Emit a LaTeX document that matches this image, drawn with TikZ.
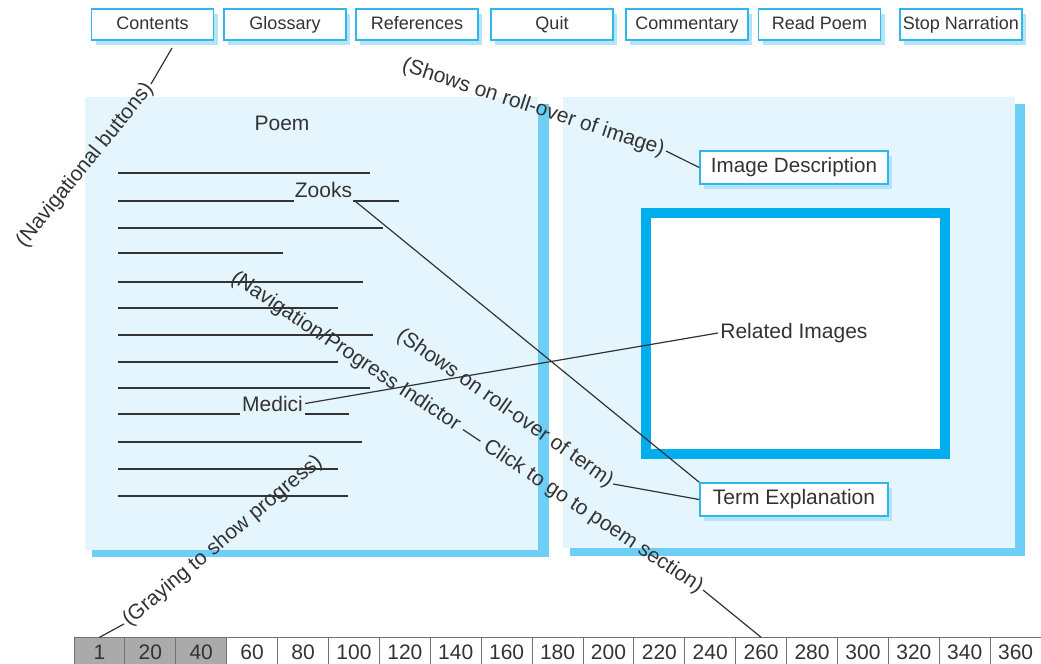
\documentclass[tikz,border=0pt]{standalone}
\usepackage{fontspec}
\setmainfont{Liberation Sans}
\usetikzlibrary{shadows}
\definecolor{Celeste}{HTML}{2DB7EA}
\definecolor{Marco}{HTML}{00AEEF}
\definecolor{Panel}{HTML}{E4F5FD}
\definecolor{Sombra}{HTML}{6ECFF6}
\definecolor{SombraBoton}{HTML}{B5E4F7}
\definecolor{Tinta}{HTML}{333333}
\definecolor{Gris}{HTML}{AAAAAA}

\begin{document}
\begin{tikzpicture}[x=0.5pt,y=-0.5pt,
  boton/.style={draw=Celeste,line width=0.8pt,fill=white,minimum width=61pt,minimum height=15.5pt,
    inner xsep=1pt,text height=6.6pt,text depth=1.9pt,text=Tinta,font=\fontsize{9}{11}\selectfont,
    drop shadow={shadow xshift=2pt,shadow yshift=-2.5pt,fill=SombraBoton,opacity=1}},
  etiqueta/.style={boton,minimum width=94pt,text height=7.6pt,text depth=2.2pt,font=\fontsize{10.3}{12}\selectfont},
  nota/.style={text=Tinta,inner sep=1pt,font=\fontsize{10.5}{12}\selectfont},
  texto/.style={text=Tinta,inner sep=1pt,font=\fontsize{10.5}{12}\selectfont},
  guia/.style={draw=Tinta,line width=0.6pt},
  verso/.style={draw=Tinta,line width=0.6pt},
  celda/.style={draw=Tinta!70,line width=0.5pt,minimum width=25.45pt,minimum height=14pt,
    text height=7.5pt,text depth=0pt,text=Tinta,font=\fontsize{10.5}{12}\selectfont}]
\useasboundingbox (0,0) rectangle (1041,664);
% panels
\fill[Sombra] (92,104) rectangle (549,557);
\fill[Panel] (85,97) rectangle (538,550);
\fill[Sombra] (570,104) rectangle (1025,556);
\fill[Panel] (563,97) rectangle (1015,548);
\draw[Marco,line width=5pt,fill=white] (646,213) rectangle (945,454);
% buttons
\foreach \nm/\lbl/\xc in {contents/Contents/152.5,glossary/Glossary/285,references/References/417,
  quit/Quit/552,commentary/Commentary/687,readpoem/Read Poem/819.5,stop/Stop Narration/961}
  \node[boton] (\nm) at (\xc,24.5) {\lbl};
% poem text
\node[texto] (titulo) at (282,123) {Poem};
\foreach \y/\xe in {173/370,228/383,253/283,282/363,308/338,335/373,362/338,388/370,442/362,469/338,496/348}
  \draw[verso] (118,\y) -- (\xe,\y);
\draw[verso] (118,201) -- (294,201) (353,201) -- (399,201);
\draw[verso] (118,414) -- (240,414) (305,414) -- (349,414);
\node[texto,anchor=base] (zooks) at (323.5,198) {Zooks};
\node[texto,anchor=base] (medici) at (272.5,411) {Medici};
% image side
\node[etiqueta] (descripcion) at (794,167.5) {Image Description};
\node[etiqueta,font=\fontsize{10.5}{12}\selectfont] (termino) at (794,499.5) {Term Explanation};
\node[texto,anchor=west] (relacion) at (718,333) {Related Images};
% progress bar
\foreach \n [count=\i from 0] in {1,20,40,60,...,360}{
  \ifnum\i<3 \def\relleno{Gris}\else \def\relleno{white}\fi
  \node[celda,fill=\relleno] (celda\i) at ({99.45+50.9*\i},652) {\n};
}
% notes
\node[nota,rotate=51,anchor=east] (notanav) at (151,84) {(Navigational buttons)};
\coordinate (pieboton) at (172,48);
\draw[guia] (notanav.east) -- (pieboton);
\node[nota,rotate=-18,anchor=east] (notaimg) at (666,151) {(Shows on roll-over of image)};
\draw[guia] (notaimg.east) -- (descripcion.west);
\node[nota,rotate=-35,anchor=east] (notatermino) at (613,484) {(Shows on roll-over of term)};
\draw[guia] (notatermino.east) -- (termino.west);
\node[nota,rotate=-33.7,anchor=east] (notaprogreso) at (703,590) {(Navigation/Progress Indictor — Click to go to poem section)};
\draw[guia] (notaprogreso.east) -- (celda13.north);
\node[nota,rotate=40,anchor=west] (notagris) at (124,624) {(Graying to show progress)};
\draw[guia] (notagris.west) -- (celda0.north);
% term links
\draw[guia] (zooks.south east) -- (termino.north west);
\draw[guia] (medici.east) -- (relacion.west);
\end{tikzpicture}
\end{document}
